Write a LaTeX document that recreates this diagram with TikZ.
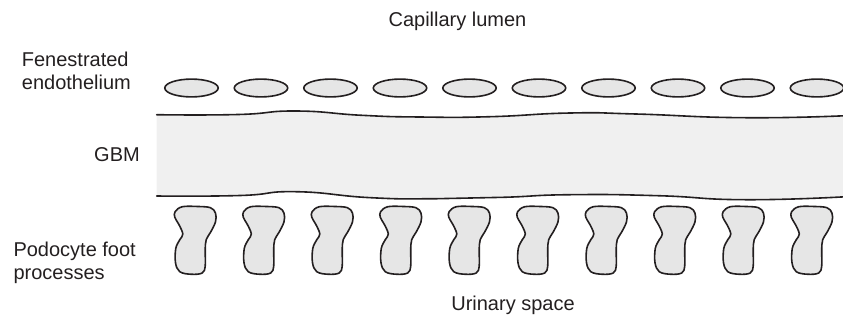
\documentclass[tikz,border=0pt]{standalone}
\usepackage{fontspec}
\setmainfont{Liberation Sans}
\definecolor{ink}{HTML}{231F20}
\definecolor{cellfill}{HTML}{E6E6E6}
\definecolor{gbmfill}{HTML}{F0F0F0}
\begin{document}
\begin{tikzpicture}[x=1pt,y=-1pt,
  outline/.style={draw=ink,line width=1.6pt},
  txt/.style={inner sep=0pt,text=ink,font=\fontsize{20}{23}\selectfont},
]
\useasboundingbox (0,0) rectangle (843,325);
\clip (0,0) rectangle (843,325);

% glomerular basement membrane: shaded band between two wavy borders
\fill[gbmfill]
  plot[smooth,tension=0.9] coordinates {(156.6,114.7) (238,114.5) (296,111) (362,115.3) (420,117) (490,116.7) (570,113) (636,114) (746,117.7) (850,115.5)}
  -- plot[smooth,tension=0.9] coordinates {(850,196.5) (746,199.7) (658,195.7) (570,194.7) (503.5,197.3) (437,198.7) (371,197.7) (296,191.7) (240,195.5) (156.6,196)}
  -- cycle;
\draw[outline,line cap=round]
  plot[smooth,tension=0.9] coordinates {(156.6,114.7) (238,114.5) (296,111) (362,115.3) (420,117) (490,116.7) (570,113) (636,114) (746,117.7) (850,115.5)};
\draw[outline,line cap=round]
  plot[smooth,tension=0.9] coordinates {(156.6,196) (240,195.5) (296,191.7) (371,197.7) (437,198.7) (503.5,197.3) (570,194.7) (658,195.7) (746,199.7) (850,196.5)};

% fenestrated endothelium
\foreach \i in {0,...,9}
  \draw[outline,fill=cellfill] (191.5+69.5*\i,88) ellipse [x radius=26.7, y radius=8.9];

% podocyte foot processes
\foreach \i in {0,...,9}{
  \begin{scope}[shift={(175.5+68.5*\i,208)},yscale=0.96]
    \draw[outline,fill=cellfill] plot[smooth cycle,tension=0.6] coordinates {
      (-0.3,3.7) (6.7,-1.3) (21.7,-1.6) (35,-0.3) (40,5.4) (40,14.4)
      (35,25.4) (30.7,33) (29.7,43.7) (29.7,60.4) (26.7,67.7) (15.7,69)
      (4.3,66.4) (0,57) (0.3,42) (4.3,33) (7.3,27) (3.3,17) (-0.7,9.7)};
  \end{scope}
}

% labels
\node[txt,anchor=base] (lumen) at (457.5,26) {Capillary lumen};
\node[txt,anchor=base] (urinary) at (513,310.7) {Urinary space};
\node[txt,anchor=base east] (gbm) at (140,161.7) {GBM};
\node[txt,align=left,anchor=north west] (endo) at (21.7,52) {Fenestrated\\endothelium};
\node[txt,align=left,anchor=north west] (podo) at (13.3,242) {Podocyte foot\\processes};
\end{tikzpicture}
\end{document}
